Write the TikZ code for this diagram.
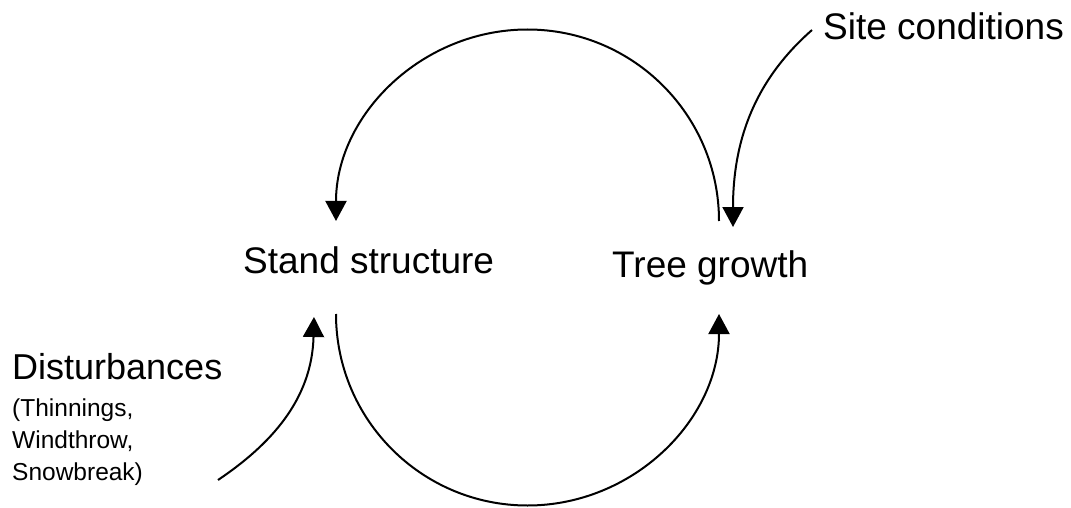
\documentclass[tikz,border=0pt]{standalone}
\usepackage{fontspec}
\setmainfont{Liberation Sans}
\usetikzlibrary{arrows.meta}
\begin{document}
\begin{tikzpicture}[x=1pt,y=1pt,
  bigtxt/.style={anchor=base west,inner sep=0pt,font=\fontsize{37}{40}\selectfont},
  smalltxt/.style={anchor=base west,inner sep=0pt,font=\fontsize{24.5}{28}\selectfont},
  conn/.style={line width=2pt,-{Triangle[width=21pt,length=20pt]}}]
\useasboundingbox (0,0) rectangle (1071,507);
% text nodes
\node[bigtxt] (stand) at (243,234) {Stand structure};
\node[bigtxt] (tree) at (612,230) {Tree growth};
\node[bigtxt] (site) at (823,467) {Site conditions};
\node[bigtxt,font=\fontsize{36}{40}\selectfont] (dist) at (12,128) {Disturbances};
\node[smalltxt] (sub1) at (12,91) {(Thinnings,};
\node[smalltxt] (sub2) at (12,59) {Windthrow,};
\node[smalltxt] (sub3) at (12,27) {Snowbreak)};
% connector end points
\coordinate (treeTop) at (719,286);
\coordinate (standBot) at (336,193);
\coordinate (siteStart) at (812,477);
\coordinate (treeIn) at (733,280);
\coordinate (distStart) at (218,27);
\coordinate (standIn) at (314,190);
% connectors
\draw[conn] (treeTop) arc[start angle=0,end angle=180,radius=191.5];
\draw[conn] (standBot) arc[start angle=180,end angle=360,radius=191.5];
\draw[conn] (siteStart) .. controls (755,427) and (733,367) .. (treeIn);
\draw[conn] (distStart) .. controls (270,62) and (312,107) .. (standIn);
\end{tikzpicture}
\end{document}
